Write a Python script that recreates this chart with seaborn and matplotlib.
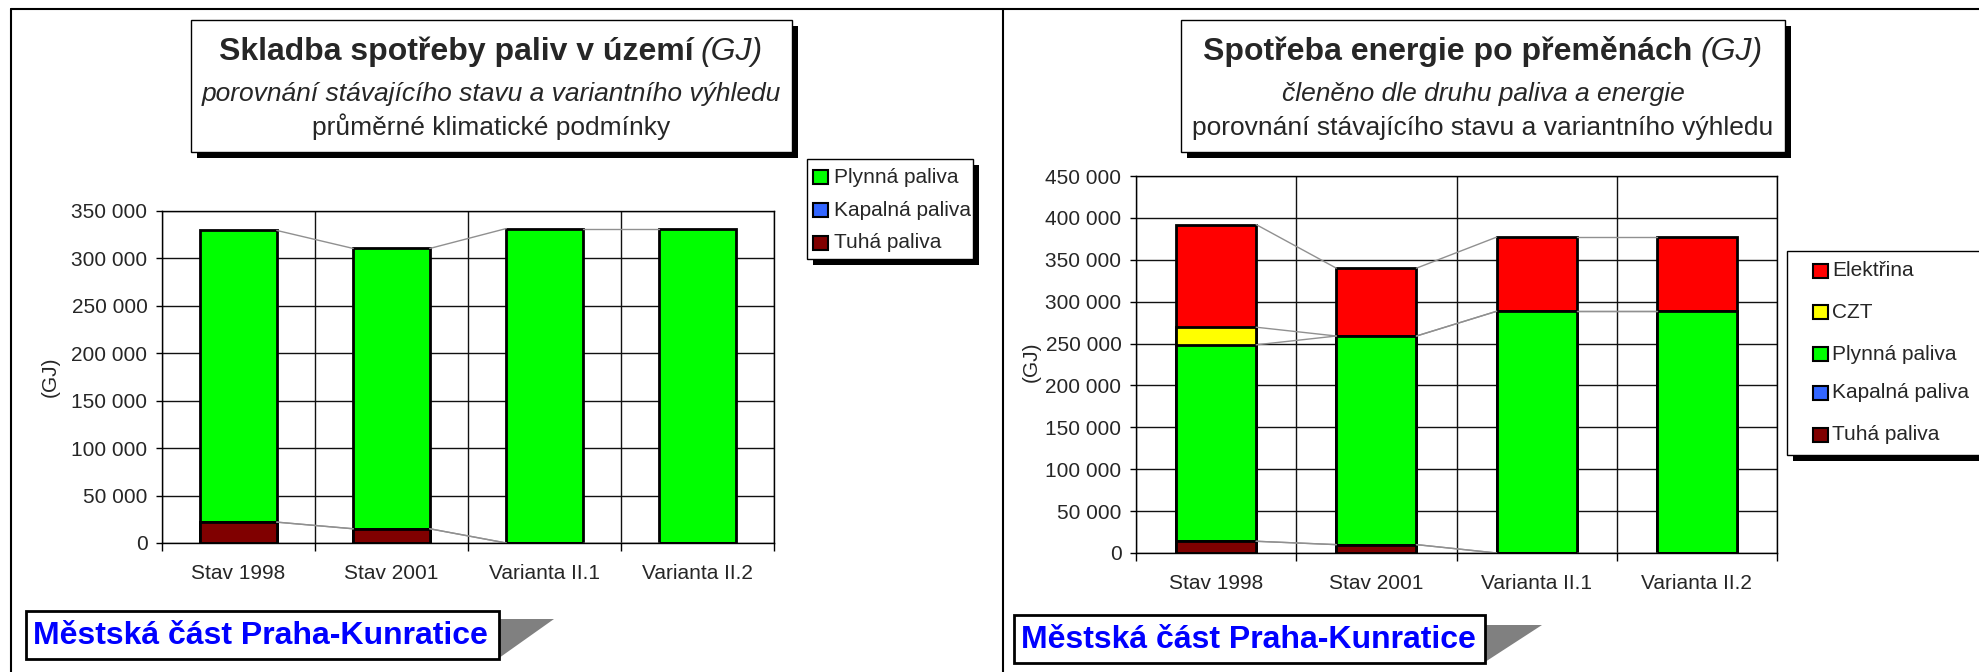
import numpy as np
import pandas as pd
import seaborn as sns
import matplotlib.pyplot as plt
from matplotlib.patches import Rectangle, Polygon
from matplotlib.lines import Line2D
from matplotlib.ticker import FuncFormatter, MultipleLocator

categories = ["Stav 1998", "Stav 2001", "Varianta II.1", "Varianta II.2"]

# levy graf - skladba spotreby paliv v uzemi (GJ)
paliva_tuha = [22000, 15000, 0, 0]
paliva_kapalna = [0, 0, 0, 0]
paliva_plynna = [307500, 295500, 331500, 331500]

# pravy graf - spotreba energie po premenach (GJ)
energie_tuha = [14000, 10000, 0, 0]
energie_kapalna = [0, 0, 0, 0]
energie_plynna = [234500, 249000, 288500, 288500]
energie_czt = [21000, 0, 0, 0]
energie_elektrina = [122500, 81000, 88500, 88500]

colors = {"Tuhá paliva": "#800000", "Kapalná paliva": "#3366FF",
          "Plynná paliva": "#00FF00", "CZT": "#FFFF00", "Elektřina": "#FF0000"}

sns.set_style("ticks")
plt.rcParams["font.family"] = ["Liberation Sans", "DejaVu Sans"]

W, H = 1979, 672
fig = plt.figure(figsize=(W / 100, H / 100), dpi=100)


def fx(x):
    return x / W


def fy(y):
    return 1 - y / H


def box(x0, y0, x1, y1, shadow=6, lw=1.0):
    if shadow:
        fig.add_artist(Rectangle((fx(x0 + shadow), fy(y1 + shadow)), (x1 - x0) / W, (y1 - y0) / H,
                                 transform=fig.transFigure, facecolor="black", edgecolor="none"))
    fig.add_artist(Rectangle((fx(x0), fy(y1)), (x1 - x0) / W, (y1 - y0) / H,
                             transform=fig.transFigure, facecolor="white", edgecolor="black", lw=lw))


def stacked(ax, series, ymax):
    names = list(series.keys())  # odspodu nahoru
    cum = np.cumsum([series[n] for n in names], axis=0)
    # kumulativni sloupce od nejvyssiho, nizsi se kresli pres ne
    for k in range(len(names) - 1, -1, -1):
        sns.barplot(x=categories, y=cum[k], color=colors[names[k]], saturation=1, width=0.5,
                    edgecolor="black", linewidth=2, errorbar=None, ax=ax)
    # spojnice rad
    for k in range(len(names)):
        for i in range(len(categories) - 1):
            ax.plot([i + 0.25, i + 0.75], [cum[k][i], cum[k][i + 1]], color="#909090", lw=1, zorder=1.5)
    ax.set_xlim(-0.5, 3.5)
    ax.set_ylim(0, ymax)
    ax.yaxis.set_major_locator(MultipleLocator(50000))
    ax.yaxis.set_major_formatter(FuncFormatter(lambda v, p: f"{int(v):,}".replace(",", " ")))
    ax.set_xticks(range(len(categories)))
    ax.set_xticklabels(categories)
    ax.set_xticks([-0.5, 0.5, 1.5, 2.5, 3.5], minor=True)
    ax.tick_params(axis="x", which="major", length=0, pad=15, labelsize=15)
    ax.tick_params(axis="x", which="minor", length=6, width=1, direction="out", color="black")
    ax.tick_params(axis="y", which="major", length=4.5, width=1, direction="out", pad=6, labelsize=15, color="black")
    ax.set_axisbelow(True)
    ax.grid(True, axis="y", which="major", color="#111111", lw=1)
    ax.grid(True, axis="x", which="minor", color="#111111", lw=1)
    ax.set_xlabel("")
    ax.set_ylabel("")
    for s in ax.spines.values():
        s.set_visible(True)
        s.set_color("black")
        s.set_linewidth(1)


def legend(x0, y0, x1, y1, names, ys, px, tx):
    box(x0, y0, x1, y1, shadow=6)
    for n, y in zip(names, ys):
        fig.add_artist(Rectangle((fx(px), fy(y + 7)), 15 / W, 14 / H, transform=fig.transFigure,
                                 facecolor=colors[n], edgecolor="black", lw=1.5))
        fig.text(fx(tx), fy(y), n, fontsize=15, va="center", ha="left")


def footer(x0, y0, x1, y1, tri):
    fig.add_artist(Polygon([(fx(x), fy(y)) for x, y in tri], closed=True, transform=fig.transFigure,
                           facecolor="#808080", edgecolor="none"))
    box(x0, y0, x1, y1, shadow=0, lw=2)
    fig.text(fx(x0 + 7), fy((y0 + y1) / 2 + 1), "Městská část Praha-Kunratice", fontsize=23,
             fontweight="bold", color="#0000FF", va="center", ha="left")


# ramecky panelu
for xs, ys in [([11, W], [9, 9]), ([11, 11], [9, H]), ([1003, 1003], [9, H])]:
    fig.add_artist(Line2D([fx(x) for x in xs], [fy(y) for y in ys], transform=fig.transFigure,
                          color="black", lw=1.5))

# levy graf
ax1 = fig.add_axes([fx(162), fy(543), (774 - 162) / W, (543 - 211) / H])
stacked(ax1, {"Tuhá paliva": paliva_tuha, "Kapalná paliva": paliva_kapalna,
              "Plynná paliva": paliva_plynna}, 350000)
fig.text(fx(50), fy(377), "(GJ)", fontsize=15, rotation=90, ha="center", va="center")

box(191, 20, 792, 152)
fig.text(fx(694), fy(60), "Skladba spotřeby paliv v území", fontsize=23, fontweight="bold", ha="right", va="baseline")
fig.text(fx(701), fy(60), "(GJ)", fontsize=23, style="italic", ha="left", va="baseline")
fig.text(fx(491), fy(101), "porovnání stávajícího stavu a variantního výhledu", fontsize=19, style="italic",
         ha="center", va="baseline")
fig.text(fx(491), fy(135), "průměrné klimatické podmínky", fontsize=19, ha="center", va="baseline")

legend(807, 159, 973, 259, ["Plynná paliva", "Kapalná paliva", "Tuhá paliva"], [177, 210, 243], 813, 834)
footer(26, 611, 499, 659, [(499, 619), (554, 619), (499, 658)])

# pravy graf
ax2 = fig.add_axes([fx(1136), fy(553), (1777 - 1136) / W, (553 - 176) / H])
stacked(ax2, {"Tuhá paliva": energie_tuha, "Kapalná paliva": energie_kapalna,
              "Plynná paliva": energie_plynna, "CZT": energie_czt,
              "Elektřina": energie_elektrina}, 450000)
fig.text(fx(1031), fy(362), "(GJ)", fontsize=15, rotation=90, ha="center", va="center")

box(1181, 20, 1785, 152)
fig.text(fx(1692), fy(60), "Spotřeba energie po přeměnách", fontsize=23, fontweight="bold", ha="right", va="baseline")
fig.text(fx(1700), fy(60), "(GJ)", fontsize=23, style="italic", ha="left", va="baseline")
fig.text(fx(1483), fy(101), "členěno dle druhu paliva a energie", fontsize=19, style="italic",
         ha="center", va="baseline")
fig.text(fx(1483), fy(135), "porovnání stávajícího stavu a variantního výhledu", fontsize=19,
         ha="center", va="baseline")

legend(1787, 251, 2000, 455, ["Elektřina", "CZT", "Plynná paliva", "Kapalná paliva", "Tuhá paliva"],
       [271, 312, 354, 393, 435], 1813, 1832)
footer(1014, 615, 1485, 663, [(1485, 625), (1542, 625), (1485, 662)])

fig.savefig("out.png", dpi=100)
